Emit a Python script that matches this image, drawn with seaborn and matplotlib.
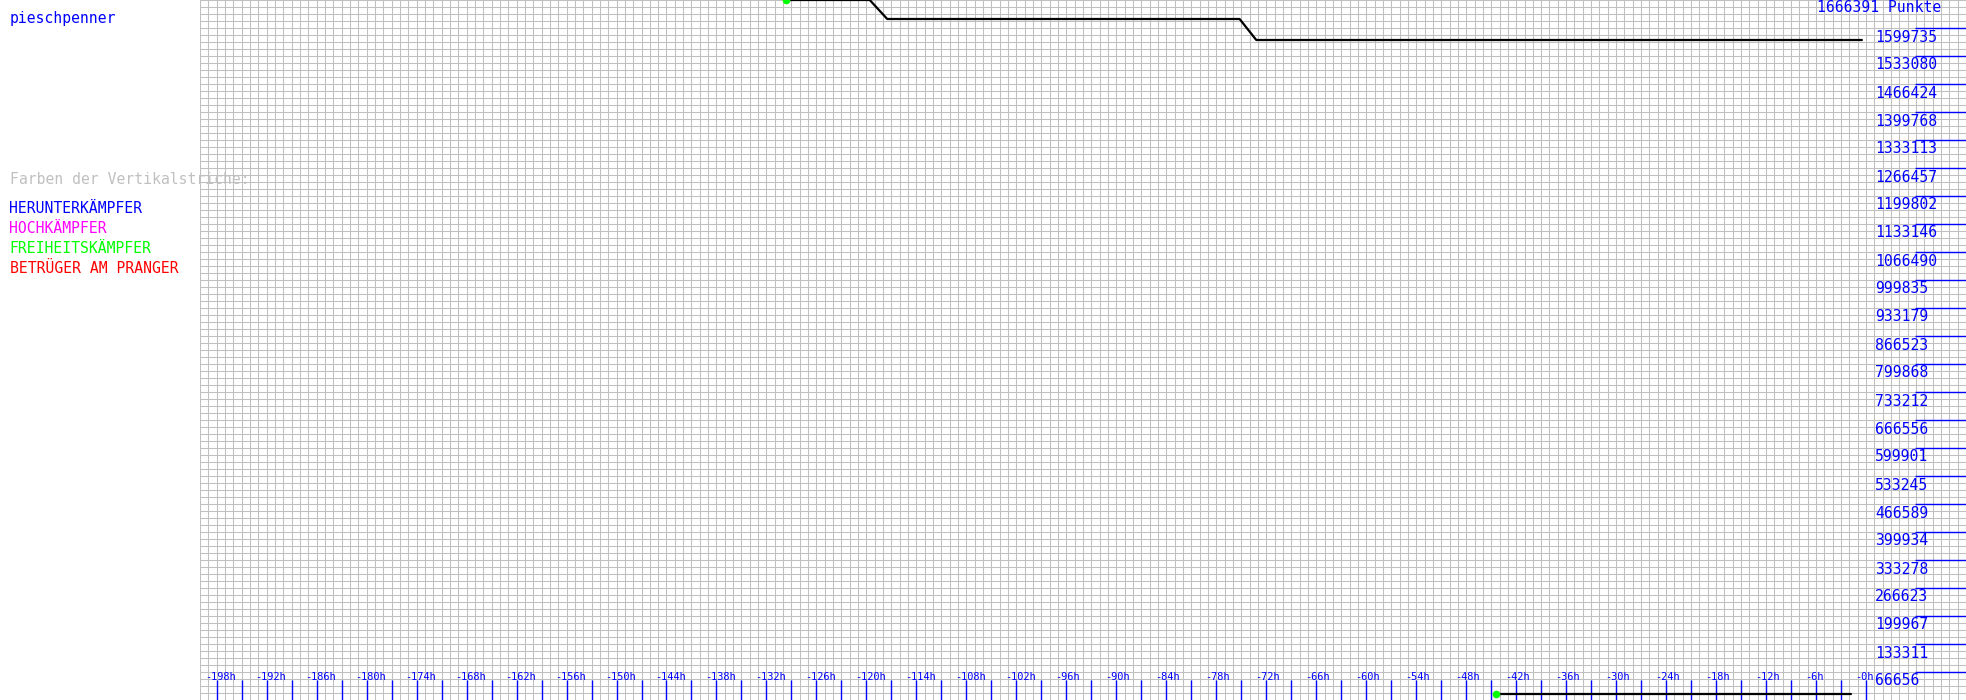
import matplotlib
matplotlib.use("Agg")
import matplotlib.pyplot as plt
from matplotlib.ticker import MultipleLocator
from matplotlib.transforms import offset_copy
import seaborn as sns

# ---- data ----
player_name = "pieschpenner"
max_points = 1666391
top_hours = [-129.6, -119.6, -117.5, -75.2, -73.2, -0.5]
top_points = [1666391, 1666391, 1621164, 1621164, 1571169, 1571169]
bottom_hours = [-44.4, -1.8]
bottom_points = [13500, 13500]
y_tick_values = [1599735, 1533080, 1466424, 1399768, 1333113, 1266457, 1199802,
                 1133146, 1066490, 999835, 933179, 866523, 799868, 733212,
                 666556, 599901, 533245, 466589, 399934, 333278, 266623,
                 199967, 133311, 66656]
x_label_hours = list(range(-198, 1, 6))
x_tick_hours = list(range(-198, 1, 3))
legend_title = "Farben der Vertikalstriche:"
legend_items = ["HERUNTERKÄMPFER", "HOCHKÄMPFER", "FREIHEITSKÄMPFER", "BETRÜGER AM PRANGER"]
legend_colors = ["#0000ff", "#ff00ff", "#00ff00", "#ff0000"]

sns.set_style("white")
plt.rcParams["font.family"] = ["DejaVu Sans Mono", "DejaVu Sans"]

W, H = 1966, 700
fig = plt.figure(figsize=(W / 100, H / 100), dpi=100)
ax = fig.add_axes([200 / W, 0, (W - 200) / W, 1])
ax.set_xlim(-200, 12)
ax.set_ylim(0, max_points)
for s in ax.spines.values():
    s.set_visible(False)

ax.xaxis.set_major_locator(MultipleLocator(1))
ax.yaxis.set_major_locator(MultipleLocator(max_points / 100))
ax.grid(True, color="#c0c0c0", linewidth=0.75)
ax.tick_params(left=False, bottom=False, labelleft=False, labelbottom=False)
ax.set_axisbelow(True)

# data lines
sns.lineplot(x=top_hours, y=top_points, color="black", linewidth=1.6,
             estimator=None, sort=False, ax=ax, zorder=3)
sns.lineplot(x=bottom_hours, y=bottom_points, color="black", linewidth=1.6,
             estimator=None, sort=False, ax=ax, zorder=3)
ax.scatter([top_hours[0], bottom_hours[0]], [top_points[0], bottom_points[0]],
           s=30, color="#00ff00", zorder=4, linewidths=0)

# y labels + blue right lines
ax.hlines(y_tick_values, (1915 - 200) / (W - 200), 1,
          transform=ax.get_yaxis_transform(), color="#0000ff", linewidth=1.0, zorder=2)
lab_tr = offset_copy(ax.get_yaxis_transform(), fig=fig, x=0, y=-1.5, units="dots")
for v in y_tick_values:
    ax.text((1875 - 200) / (W - 200), v, f"{v}", transform=lab_tr, ha="left", va="top",
            color="#0000ff", fontsize=10.6, zorder=5)
ax.text((1941 - 200) / (W - 200), 1 - 7 / H, f"{max_points} Punkte", transform=ax.transAxes,
        ha="right", va="center", color="#0000ff", fontsize=10.6, zorder=5)

# x ticks + labels
ax.vlines(x_tick_hours, 0, 20 / H, transform=ax.get_xaxis_transform(),
          color="#0000ff", linewidth=1.0, zorder=2)
xl_tr = offset_copy(ax.get_xaxis_transform(), fig=fig, x=-11, y=0, units="dots")
for h in x_label_hours:
    ax.text(h, 1 - 676.5 / H, f"-{abs(h)}h", transform=xl_tr, ha="left", va="center",
            color="#0000ff", fontsize=7.4, zorder=5)

# left panel texts
fig.text(9.5 / W, 1 - 18.5 / H, player_name, ha="left", va="center", color="#0000ff", fontsize=10.6)
fig.text(9.5 / W, 1 - 179 / H, legend_title, ha="left", va="center", color="#c0c0c0", fontsize=10.6)
for i, (t, c) in enumerate(zip(legend_items, legend_colors)):
    fig.text(9.5 / W, 1 - (208.5 + 20 * i) / H, t, ha="left", va="center", color=c, fontsize=10.6)

fig.savefig("out.png", dpi=100, facecolor="white")
